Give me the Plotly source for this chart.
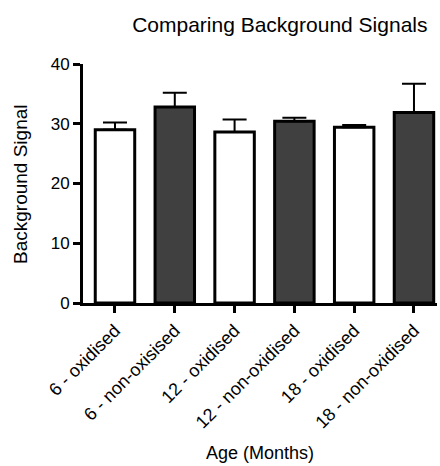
import plotly.graph_objects as go

categories = ["6 - oxidised", "6 - non-oxisised", "12 - oxidised",
              "12 - non-oxidised", "18 - oxidised", "18 - non-oxidised"]
values = [29.0, 32.8, 28.6, 30.4, 29.4, 31.9]
errors = [1.2, 2.4, 2.1, 0.6, 0.4, 4.8]
colors = ["white", "#404040", "white", "#404040", "white", "#404040"]

fig = go.Figure()
fig.add_trace(go.Bar(
    x=list(range(len(categories))),
    y=values,
    width=0.66,
    marker=dict(color=colors, line=dict(color="black", width=3)),
    error_y=dict(type="data", symmetric=False, array=errors, arrayminus=[0]*6,
                 color="black", thickness=2, width=12),
))

fig.update_layout(
    width=440, height=466,
    margin=dict(l=83, r=3, t=64, b=163),
    plot_bgcolor="white", paper_bgcolor="white",
    font=dict(family="Liberation Sans, Arial, sans-serif", color="black", size=16),
    showlegend=False,
    title=dict(text="Comparing Background Signals", x=0.556, xref="paper",
               xanchor="center", y=1 - 25/466, yref="container", yanchor="middle",
               font=dict(size=21)),
    xaxis=dict(
        range=[-0.535, 5.385],
        tickmode="array", tickvals=list(range(len(categories))), ticktext=categories,
        tickangle=-45, ticks="outside", ticklen=7, tickwidth=3, tickcolor="black",
        showline=True, linewidth=3, linecolor="black", showgrid=False, zeroline=False,
        tickfont=dict(size=18),
    ),
    yaxis=dict(
        range=[0, 40], tickvals=[0, 10, 20, 30, 40],
        ticks="outside", ticklen=7, tickwidth=3, tickcolor="black",
        showline=True, linewidth=3, linecolor="black", showgrid=False, zeroline=False,
        tickfont=dict(size=17),
    ),
    annotations=[
        dict(text="Age (Months)", xref="paper", yref="paper", x=0.501, y=-0.628,
             xanchor="center", yanchor="middle", showarrow=False, font=dict(size=18)),
        dict(text="Background Signal", xref="paper", yref="paper", x=-0.1766, y=0.5,
             xanchor="center", yanchor="middle", showarrow=False, textangle=-90,
             font=dict(size=19)),
    ],
)

fig.write_html("out.html")
